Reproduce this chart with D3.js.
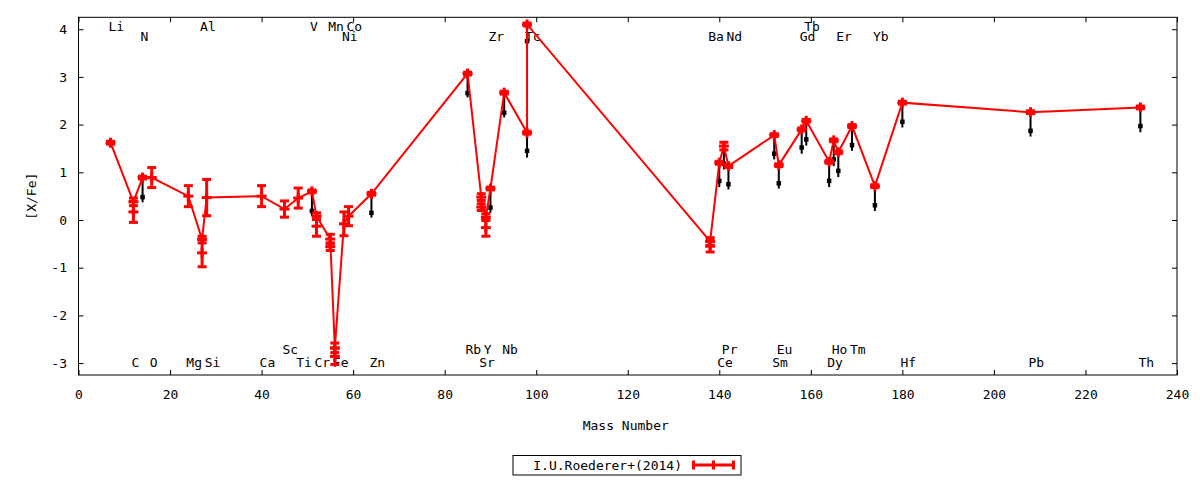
<!DOCTYPE html>
<html>
<head>
<meta charset="utf-8">
<script src="https://cdn.jsdelivr.net/npm/d3@7/dist/d3.min.js"></script>
<style>
  html, body { margin: 0; padding: 0; background: #fff; }
  svg text { font-family: "DejaVu Sans Mono", "Liberation Mono", monospace; font-size: 13px; fill: #000; }
</style>
</head>
<body>
<svg id="chart" width="1200" height="480"></svg>
<script>
// ---- data ----
// main series, connected by the line (mass number, [X/Fe], error)
const mainA   = [7, 12, 14, 16, 24, 27, 28, 40, 45, 48, 51, 52, 55, 56, 58, 59, 64, 85, 88, 89, 90, 93, 98, 98, 138, 140, 141, 142, 152, 153, 158, 159, 164, 165, 166, 169, 174, 180, 208, 232];
const mainVal = [1.62, 0.38, 0.89, 0.89, 0.50, -0.41, 0.47, 0.50, 0.23, 0.46, 0.60, 0.08, -0.40, -2.68, -0.08, 0.08, 0.55, 3.07, 0.48, 0.06, 0.66, 2.67, 1.83, 4.10, -0.45, 1.20, 1.55, 1.13, 1.78, 1.15, 1.90, 2.08, 1.22, 1.67, 1.42, 1.97, 0.71, 2.46, 2.26, 2.36];
const mainErr = [0.03, 0.08, 0.03, 0.21, 0.22, 0.07, 0.38, 0.22, 0.17, 0.21, 0.03, 0.07, 0.10, 0.10, 0.25, 0.20, 0.03, 0.03, 0.07, 0.07, 0.03, 0.03, 0.03, 0.03, 0.08, 0.03, 0.08, 0.03, 0.03, 0.03, 0.03, 0.03, 0.03, 0.03, 0.03, 0.03, 0.03, 0.03, 0.03, 0.03];
// additional measurements of the same species (error bars only)
const extraA   = [12, 27, 52, 55, 56, 88, 89, 138];
const extraVal = [0.17, -0.69, -0.13, -0.56, -2.86, 0.27, -0.16, -0.55];
const extraErr = [0.22, 0.29, 0.21, 0.08, 0.17, 0.07, 0.18, 0.12];
// black downward markers (mass number, top, square, bottom)
const blackA   = [14, 51, 64, 85, 90, 93, 98, 98, 140, 141, 142, 152, 153, 158, 159, 164, 165, 166, 169, 174, 180, 208, 232];
const blackTop = [0.80, 0.60, 0.55, 3.07, 0.66, 2.67, 1.83, 4.10, 1.20, 1.55, 1.13, 1.78, 1.15, 1.90, 2.08, 1.22, 1.67, 1.42, 1.97, 0.71, 2.46, 2.26, 2.36];
const blackSq  = [0.48, 0.19, 0.15, 2.66, 0.26, 2.25, 1.45, 3.75, 0.82, 1.18, 0.75, 1.39, 0.77, 1.52, 1.69, 0.82, 1.27, 1.03, 1.57, 0.31, 2.06, 1.87, 1.97];
const blackLo  = [0.37, 0.08, 0.05, 2.57, 0.15, 2.15, 1.31, 3.62, 0.69, 1.06, 0.64, 1.27, 0.66, 1.39, 1.56, 0.69, 1.13, 0.90, 1.45, 0.19, 1.94, 1.75, 1.84];
// element labels
const labelNames = ["Li","Al","V","Mn","Co","Tb",
                    "N","Ni","Zr","Tc","Ba","Nd","Gd","Er","Yb",
                    "Sc","Rb","Y","Nb","Pr","Eu","Ho","Tm",
                    "C","O","Mg","Si","Ca","Ti","Cr","Fe","Zn","Sr","Ce","Sm","Dy","Hf","Pb","Th"];
const labelA = [7,27,51,55,59,159,
                14,58,90,98,138,142,158,166,174,
                45,85,89,93,141,153,165,169,
                12,16,24,28,40,48,52,56,64,88,140,152,164,180,208,232];
const labelRow = [0,0,0,0,0,0,
                  1,1,1,1,1,1,1,1,1,
                  2,2,2,2,2,2,2,2,
                  3,3,3,3,3,3,3,3,3,3,3,3,3,3,3,3];
const rowLevel = [4.05, 3.84, -2.72, -2.99];
const xTicks = [0,20,40,60,80,100,120,140,160,180,200,220,240];
const yTicks = [-3,-2,-1,0,1,2,3,4];
const seriesName = "I.U.Roederer+(2014)";

// ---- drawing ----
const svg = d3.select("#chart");
const L = 78.5, R = 1177, T = 17.3, B = 375;
const x = d3.scaleLinear().domain([0, 240]).range([L, R]);
const y = d3.scaleLinear().domain([-3.25, 4.25]).range([B, T]);
const red = "#ff0000";

// axes (inward ticks, mirrored)
const gx = svg.append("g").attr("transform", `translate(0,${B})`)
  .call(d3.axisBottom(x).tickValues(xTicks).tickSize(-5).tickPadding(15).tickFormat(d3.format("d")));
const gxt = svg.append("g").attr("transform", `translate(0,${T})`)
  .call(d3.axisTop(x).tickValues(xTicks).tickSize(-5).tickFormat(""));
const gy = svg.append("g").attr("transform", `translate(${L},0)`)
  .call(d3.axisLeft(y).tickValues(yTicks).tickSize(-5).tickPadding(11.5).tickFormat(d3.format("d")));
const gyr = svg.append("g").attr("transform", `translate(${R},0)`)
  .call(d3.axisRight(y).tickValues(yTicks).tickSize(-5).tickFormat(""));
[gx, gxt, gy, gyr].forEach(g => {
  g.select(".domain").remove();
  g.selectAll("line").attr("stroke", "#000").attr("stroke-width", 1);
  g.selectAll("text").attr("font-family", "DejaVu Sans Mono").attr("font-size", 13).attr("fill", "#000");
});
gy.selectAll("text").text(d => d < 0 ? "-" + Math.abs(d) : d);

svg.append("rect").attr("x", L).attr("y", T).attr("width", R - L).attr("height", B - T)
  .attr("fill", "none").attr("stroke", "#000").attr("stroke-width", 1);

// axis titles
svg.append("text").attr("x", (L + R) / 2 - 2).attr("y", 430).attr("text-anchor", "middle").text("Mass Number");
svg.append("text").attr("transform", `translate(36,${(T + B) / 2}) rotate(-90)`)
  .attr("text-anchor", "middle").text("[X/Fe]");

// element labels
const labels = labelNames.map((n, i) => ({ n, a: labelA[i], r: labelRow[i] }));
svg.append("g").selectAll("text").data(labels).join("text")
  .attr("x", d => x(d.a) - 2)
  .attr("y", d => y(rowLevel[d.r]))
  .attr("dy", "0.35em")
  .attr("text-anchor", "start")
  .text(d => d.n);

// black markers
const blk = blackA.map((a, i) => ({ a, t: blackTop[i], s: blackSq[i], l: blackLo[i] }));
const gb = svg.append("g");
gb.selectAll("line").data(blk).join("line")
  .attr("x1", d => x(d.a)).attr("x2", d => x(d.a))
  .attr("y1", d => y(d.t)).attr("y2", d => y(d.l))
  .attr("stroke", "#000").attr("stroke-width", 2);
gb.selectAll("rect").data(blk).join("rect")
  .attr("x", d => x(d.a) - 2.25).attr("y", d => y(d.s) - 2.25)
  .attr("width", 4.5).attr("height", 4.5).attr("fill", "#000");

// connecting line
const mainPts = mainA.map((a, i) => ({ a, v: mainVal[i], e: mainErr[i] }));
svg.append("path").datum(mainPts)
  .attr("d", d3.line().x(d => x(d.a)).y(d => y(d.v)))
  .attr("fill", "none").attr("stroke", red).attr("stroke-width", 2);

// error bars + markers
const extraPts = extraA.map((a, i) => ({ a, v: extraVal[i], e: extraErr[i] }));
const allPts = mainPts.concat(extraPts);
const cap = 4.5, pl = 5;
const ge = svg.append("g").attr("stroke", red).attr("stroke-width", 3).attr("fill", "none");
allPts.forEach(d => {
  const cx = x(d.a), y1 = y(d.v + d.e), y2 = y(d.v - d.e), cy = y(d.v);
  ge.append("line").attr("x1", cx).attr("x2", cx).attr("y1", y1).attr("y2", y2);
  ge.append("line").attr("x1", cx - cap).attr("x2", cx + cap).attr("y1", y1).attr("y2", y1);
  ge.append("line").attr("x1", cx - cap).attr("x2", cx + cap).attr("y1", y2).attr("y2", y2);
  ge.append("line").attr("x1", cx - pl).attr("x2", cx + pl).attr("y1", cy).attr("y2", cy);
  ge.append("line").attr("x1", cx).attr("x2", cx).attr("y1", cy - pl).attr("y2", cy + pl);
});

// legend
const lg = svg.append("g");
lg.append("rect").attr("x", 513).attr("y", 455.5).attr("width", 228).attr("height", 19.5)
  .attr("fill", "#fff").attr("stroke", "#000").attr("stroke-width", 1);
lg.append("text").attr("x", 682).attr("y", 465).attr("dy", "0.35em").attr("text-anchor", "end").text(seriesName);
const lx1 = 692, lx2 = 735, ly = 465;
lg.append("line").attr("x1", lx1).attr("x2", lx2).attr("y1", ly).attr("y2", ly).attr("stroke", red).attr("stroke-width", 3);
[lx1 + 1.5, lx2 - 1.5].forEach(px => lg.append("line").attr("x1", px).attr("x2", px)
  .attr("y1", ly - 4.5).attr("y2", ly + 4.5).attr("stroke", red).attr("stroke-width", 3));
lg.append("line").attr("x1", (lx1 + lx2) / 2).attr("x2", (lx1 + lx2) / 2)
  .attr("y1", ly - 4.5).attr("y2", ly + 4.5).attr("stroke", red).attr("stroke-width", 3);
</script>
</body>
</html>
